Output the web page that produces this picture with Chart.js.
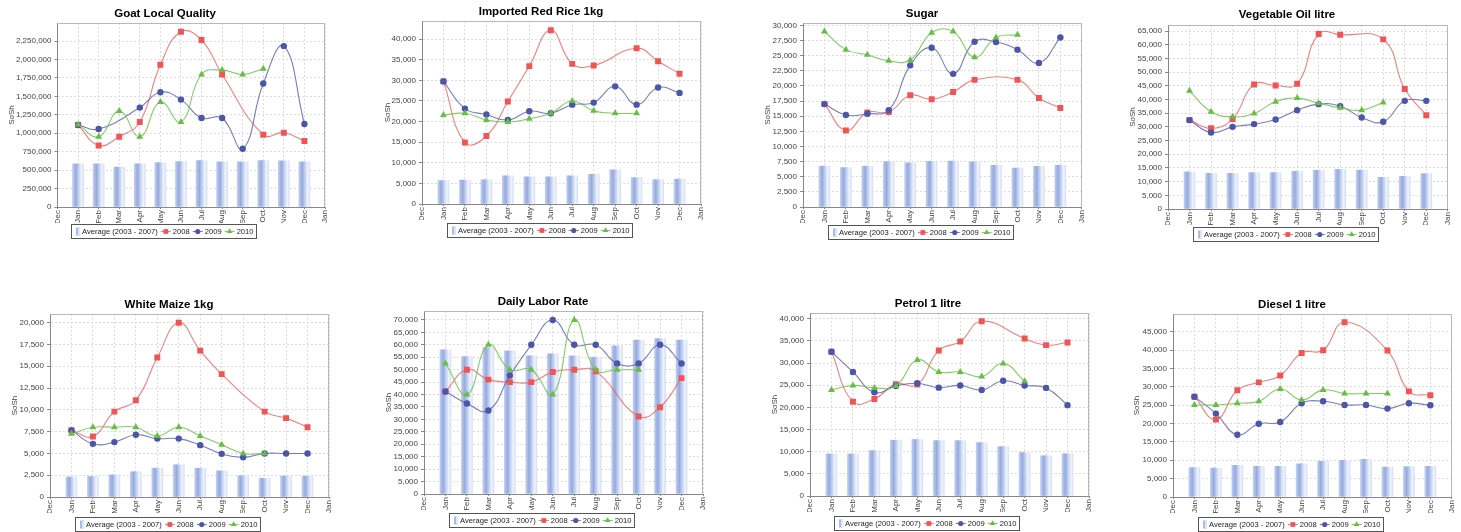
<!DOCTYPE html>
<html>
<head>
<meta charset="utf-8">
<script src="https://cdn.jsdelivr.net/npm/chart.js@4.4.1/dist/chart.umd.min.js"></script>
<style>
html, body { margin: 0; padding: 0; background: #fff; }
body { width: 1461px; height: 532px; position: relative; overflow: hidden; }
canvas { position: absolute; }
</style>
</head>
<body>
<script>
// month axis runs from the Dec before to the Jan after
var months = ['Dec', 'Jan', 'Feb', 'Mar', 'Apr', 'May', 'Jun', 'Jul', 'Aug', 'Sep', 'Oct', 'Nov', 'Dec', 'Jan'];

var goatAvg  = [585000, 585000, 540000, 585000, 603000, 617000, 631000, 612000, 612000, 631000, 626000, 612000];
var goat2008 = [1111000, 835000, 953000, 1152000, 1928000, 2377000, 2264000, 1797000, null, 980000, 1007000, 894000];
var goat2009 = [1111000, 1057000, null, 1348000, 1556000, 1456000, 1207000, 1207000, 789000, 1674000, 2182000, 1125000];
var goat2010 = [1120000, 953000, 1302000, 953000, 1425000, 1152000, 1797000, 1856000, 1797000, 1874000, null, null];

var riceAvg  = [5700, 5800, 5900, 6850, 6600, 6600, 6850, 7200, 8300, 6400, 5900, 6050];
var rice2008 = [29750, 14900, 16500, 24850, 33450, 42150, 34000, 33600, null, 37800, 34650, 31600];
var rice2009 = [29750, 23150, 21700, 20400, 22500, 22000, 24100, 24600, 28550, 24100, 28250, 26950];
var rice2010 = [21600, 22000, 20400, 19900, 20700, 22000, 25000, 22600, 22000, 22000, null, null];

var sugarAvg  = [6750, 6500, 6750, 7500, 7300, 7550, 7600, 7450, 6900, 6450, 6700, 6900];
var sugar2008 = [17000, 12650, 15600, 15700, 18450, 17800, 19000, 21000, null, 21000, 18000, 16350];
var sugar2009 = [17000, 15200, 15400, 16000, 23400, 26300, 22000, 27300, 27250, 26000, 23800, 28000];
var sugar2010 = [29000, 26000, 25150, 24150, 24300, 28800, 29000, 24750, 28000, 28450, null, null];

var oilAvg  = [13550, 13050, 13050, 13300, 13300, 13800, 14150, 14500, 14250, 11600, 11950, 12900];
var oil2008 = [32550, 29500, 32900, 45500, 45100, 45750, 63900, 63650, null, 61950, 43800, 34250];
var oil2009 = [32450, 27950, 30000, 31000, 32700, 36100, 38300, 37550, 33400, 31850, 39500, 39500];
var oil2010 = [43150, 35500, 33650, 34900, 39150, 40500, 38650, 36950, 36100, 38900, null, null];

var maizeAvg  = [2300, 2350, 2550, 2900, 3300, 3700, 3300, 3000, 2450, 2150, 2400, 2400];
var maize2008 = [7650, 6950, 9800, 11100, 16000, 20000, 16800, 14100, null, 9800, 9050, 8000];
var maize2009 = [7650, 6100, 6300, 7150, 6700, 6700, 5950, 4950, 4550, 5000, 5000, 5000];
var maize2010 = [7250, 8000, 8000, 8000, 7000, 8000, 7000, 6000, 5000, 5000, null, null];

var laborAvg  = [57950, 55250, 58900, 57550, 55550, 56350, 55550, 55000, 59550, 61950, 62500, 61950];
var labor2008 = [41200, 50000, 46000, 45000, 45000, 49100, 50000, 49400, null, 31200, 34900, 46600];
var labor2009 = [41200, 36400, 33600, 47650, 60000, 70000, 60000, 60000, 52500, 52500, 60000, 52500];
var labor2010 = [52500, 40000, 60000, 50000, 50000, 40000, 70000, 50000, 50000, 50000, null, null];

var petrolAvg  = [9500, 9500, 10250, 12600, 12750, 12500, 12500, 12050, 11150, 9800, 9100, 9550];
var petrol2008 = [32550, 21250, 21900, 25250, 25150, 32850, 34850, 39450, null, 35550, 34050, 34650];
var petrol2009 = [32550, 28000, 23400, 24850, 25450, 24450, 24950, 23950, 26000, 24950, 24400, 20500];
var petrol2010 = [23950, 24950, 24400, 24850, 30700, 28000, 28000, 26950, 29900, 25900, null, null];

var dieselAvg  = [8000, 7900, 8600, 8350, 8350, 9000, 9700, 10000, 10250, 8150, 8250, 8350];
var diesel2008 = [27300, 21050, 29050, 31200, 33050, 39200, 39950, 47550, null, 39850, 28750, 27700];
var diesel2009 = [27300, 22700, 16950, 19950, 20400, 25500, 26050, 25050, 25050, 24050, 25500, 24950];
var diesel2010 = [25050, 25050, 25500, 26050, 29400, 26400, 29150, 28150, 28150, 28150, null, null];

var panels = [
	{ title: 'Goat Local Quality', avg: goatAvg, s2008: goat2008, s2009: goat2009, s2010: goat2010, yMax: 2495000, yStep: 250000 },
	{ title: 'Imported Red Rice 1kg', avg: riceAvg, s2008: rice2008, s2009: rice2009, s2010: rice2010, yMax: 44400, yStep: 5000 },
	{ title: 'Sugar', avg: sugarAvg, s2008: sugar2008, s2009: sugar2009, s2010: sugar2010, yMax: 30400, yStep: 2500 },
	{ title: 'Vegetable Oil litre', avg: oilAvg, s2008: oil2008, s2009: oil2009, s2010: oil2010, yMax: 67200, yStep: 5000 },
	{ title: 'White Maize 1kg', avg: maizeAvg, s2008: maize2008, s2009: maize2009, s2010: maize2010, yMax: 21000, yStep: 2500 },
	{ title: 'Daily Labor Rate', avg: laborAvg, s2008: labor2008, s2009: labor2009, s2010: labor2010, yMax: 73600, yStep: 5000 },
	{ title: 'Petrol 1 litre', avg: petrolAvg, s2008: petrol2008, s2009: petrol2009, s2010: petrol2010, yMax: 41300, yStep: 5000 },
	{ title: 'Diesel 1 litre', avg: dieselAvg, s2008: diesel2008, s2009: diesel2009, s2010: diesel2010, yMax: 49800, yStep: 5000 }
];

// page layout of each small chart (page pixels)
var frames = [
	{ x0: 0,    x1: 330,  titleY: 14,  axisX: 12,   plotL: 57.5, plotR: 325,  plotT: 23,  plotB: 207, legendY: 231 },
	{ x0: 365,  x1: 717,  titleY: 12,  axisX: 388,  plotL: 422,  plotR: 701,  plotT: 21,  plotB: 204, legendY: 230 },
	{ x0: 758,  x1: 1086, titleY: 14,  axisX: 768,  plotL: 803,  plotR: 1082, plotT: 23,  plotB: 207, legendY: 232 },
	{ x0: 1122, x1: 1452, titleY: 15,  axisX: 1133, plotL: 1168, plotR: 1448, plotT: 25,  plotB: 209, legendY: 234 },
	{ x0: 0,    x1: 338,  titleY: 305, axisX: 15,   plotL: 50,   plotR: 329,  plotT: 314, plotB: 497, legendY: 524 },
	{ x0: 365,  x1: 721,  titleY: 302, axisX: 389,  plotL: 424,  plotR: 703,  plotT: 311, plotB: 494, legendY: 520 },
	{ x0: 762,  x1: 1094, titleY: 304, axisX: 775,  plotL: 810,  plotR: 1089, plotT: 313, plotB: 496, legendY: 523 },
	{ x0: 1128, x1: 1456, titleY: 305, axisX: 1137, plotL: 1173, plotR: 1452, plotT: 314, plotB: 497, legendY: 524 }
];

var FONT = '"Liberation Sans", Arial, Helvetica, sans-serif';
var TITLE_SIZE = 11.5, TITLE_LH = TITLE_SIZE * 1.2;
var AXIS_LH = 8 * 1.2;
var X_AXIS_H = 16;
var BAR_W = 11;

var seriesStyle = {
	'2008': { line: 'rgba(236,96,96,0.8)', mark: '#f05454', shape: 'rect', r: 4.2 },
	'2009': { line: 'rgba(86,92,176,0.8)', mark: '#4d55a8', shape: 'circle', r: 3.2 },
	'2010': { line: 'rgba(110,194,78,0.85)', mark: '#66bf44', shape: 'triangle', r: 4 }
};

Chart.defaults.font.family = FONT;
Chart.defaults.font.size = 8;
Chart.defaults.color = '#444';

function pad(values) {
	return [null].concat(values, [null]);
}

// JFreeChart-like gradient bars, built around each bar's own centre
function barFill(c) {
	var xs = c.chart.scales && c.chart.scales.x;
	if (c.type !== 'data' || !xs) return '#b4c4ea';
	var cx = xs.getPixelForValue(c.dataIndex);
	if (!isFinite(cx)) return '#b4c4ea';
	var g = c.chart.ctx.createLinearGradient(cx - BAR_W / 2, 0, cx + BAR_W / 2, 0);
	g.addColorStop(0, '#c0cdee');
	g.addColorStop(0.3, '#94aadf');
	g.addColorStop(0.5, '#b9c8ec');
	g.addColorStop(0.8, '#f0f4fc');
	g.addColorStop(1, '#d6dff5');
	return g;
}

function lineSet(label, values, order) {
	var s = seriesStyle[label];
	return {
		type: 'line',
		label: label,
		data: pad(values),
		order: order,
		borderColor: s.line,
		borderWidth: 1.1,
		backgroundColor: s.mark,
		pointBackgroundColor: s.mark,
		pointBorderWidth: 0,
		pointRadius: s.r,
		pointStyle: s.shape,
		tension: 0.45,
		spanGaps: true,
		fill: false
	};
}

// light outline on the top and right of the plot
var plotFrame = {
	id: 'plotFrame',
	beforeDatasetsDraw: function(chart) {
		var a = chart.chartArea, ctx = chart.ctx;
		var l = Math.round(a.left) + 0.5, r = Math.round(a.right) - 0.5, t = Math.round(a.top) + 0.5, b = Math.round(a.bottom);
		ctx.save();
		ctx.strokeStyle = '#b8b8b8';
		ctx.lineWidth = 1;
		ctx.beginPath();
		ctx.moveTo(l, t);
		ctx.lineTo(r, t);
		ctx.lineTo(r, b);
		ctx.stroke();
		ctx.restore();
	}
};

// boxed legend under the axis
var boxLegend = {
	id: 'boxLegend',
	afterDraw: function(chart, args, opts) {
		var ctx = chart.ctx;
		var sets = chart.data.datasets;
		ctx.save();
		ctx.font = '7.6px ' + FONT;
		var items = sets.map(function(ds) {
			return { ds: ds, icon: ds.type === 'line' ? 10 : 4, text: ctx.measureText(ds.label).width };
		});
		var total = items.reduce(function(s, it) { return s + it.icon + 2 + it.text; }, 0) + 3 * (items.length - 1);
		var left = Math.round(chart.width / 2 - total / 2);
		var cy = Math.round(opts.cy);
		ctx.strokeStyle = '#555';
		ctx.lineWidth = 1;
		ctx.strokeRect(left - 4.5, cy - 6.5, Math.round(total + 7), 14);
		var x = left;
		items.forEach(function(it) {
			var ds = it.ds;
			if (ds.type === 'line') {
				ctx.strokeStyle = ds.borderColor;
				ctx.lineWidth = 1.2;
				ctx.beginPath();
				ctx.moveTo(x, cy + 0.5);
				ctx.lineTo(x + it.icon, cy + 0.5);
				ctx.stroke();
				ctx.fillStyle = ds.pointBackgroundColor;
				Chart.helpers.drawPoint(ctx, { pointStyle: ds.pointStyle, radius: ds.pointRadius * 0.8, rotation: 0, borderWidth: 0 }, x + it.icon / 2, cy + 0.5);
			} else {
				ctx.fillStyle = '#a9bbe6';
				ctx.fillRect(x, cy - 3.5, it.icon, 8);
				ctx.fillStyle = '#dfe6f7';
				ctx.fillRect(x + 2, cy - 3.5, 2, 8);
			}
			ctx.fillStyle = '#222';
			ctx.textBaseline = 'middle';
			ctx.textAlign = 'left';
			ctx.fillText(ds.label, x + it.icon + 2, cy + 0.5);
			x += it.icon + 2 + it.text + 3;
		});
		ctx.restore();
	}
};

frames.forEach(function(f, i) {
	var p = panels[i];
	var y0 = f.titleY - 9;
	var W = f.x1 - f.x0;
	var H = f.legendY - y0 + 9;
	var canvas = document.createElement('canvas');
	canvas.width = W;
	canvas.height = H;
	canvas.style.left = f.x0 + 'px';
	canvas.style.top = y0 + 'px';
	canvas.style.width = W + 'px';
	canvas.style.height = H + 'px';
	document.body.appendChild(canvas);

	var titleTop = f.titleY - y0 - TITLE_LH / 2;
	var titleBottom = f.plotT - y0 - titleTop - TITLE_LH;
	var yAxisW = f.plotL - f.x0;
	var rightPad = f.x1 - f.plotR;
	var bottomPad = H - (f.plotB - y0) - X_AXIS_H;

	new Chart(canvas, {
		type: 'bar',
		data: {
			labels: months,
			datasets: [
				{ type: 'bar', label: 'Average (2003 - 2007)', data: pad(p.avg), order: 4, backgroundColor: barFill, borderWidth: 0, barThickness: BAR_W },
				lineSet('2008', p.s2008, 3),
				lineSet('2009', p.s2009, 2),
				lineSet('2010', p.s2010, 1)
			]
		},
		options: {
			responsive: false,
			animation: false,
			devicePixelRatio: 1,
			layout: { padding: { left: 0, right: 0, top: 0, bottom: bottomPad } },
			plugins: {
				legend: { display: false },
				tooltip: { enabled: false },
				title: {
					display: true,
					text: p.title,
					color: '#000',
					font: { size: TITLE_SIZE, weight: 'bold' },
					padding: { top: titleTop, bottom: titleBottom }
				},
				boxLegend: { cy: f.legendY - y0 }
			},
			scales: {
				x: {
					offset: false,
					grid: { offset: false, color: '#dcdcdc', tickLength: 2, tickColor: '#888' },
					border: { color: '#888', dash: [2, 2] },
					ticks: { autoSkip: false, minRotation: 90, maxRotation: 90, padding: 1, color: '#444', font: { size: 8 } },
					afterFit: function(a) {
						a.height = X_AXIS_H;
						a.paddingLeft = 0;
						a.paddingRight = rightPad;
					}
				},
				y: {
					min: 0,
					max: p.yMax,
					bounds: 'data',
					grid: { color: '#dcdcdc', tickLength: 3, tickColor: '#888' },
					border: { color: '#888', dash: [2, 2] },
					title: { display: true, text: 'SoSh', color: '#444', font: { size: 8 }, padding: { top: f.axisX - f.x0 - AXIS_LH / 2, bottom: 0 } },
					ticks: {
						autoSkip: false,
						padding: 3,
						color: '#444',
						callback: function(v) { return Number(v).toLocaleString('en-US'); }
					},
					afterBuildTicks: function(a) {
						var t = [];
						for (var v = 0; v <= p.yMax; v += p.yStep) t.push({ value: v });
						a.ticks = t;
					},
					afterFit: function(a) {
						a.width = yAxisW;
						a.paddingTop = 0;
						a.paddingBottom = 0;
					}
				}
			}
		},
		plugins: [plotFrame, boxLegend]
	});
});
</script>
</body>
</html>
